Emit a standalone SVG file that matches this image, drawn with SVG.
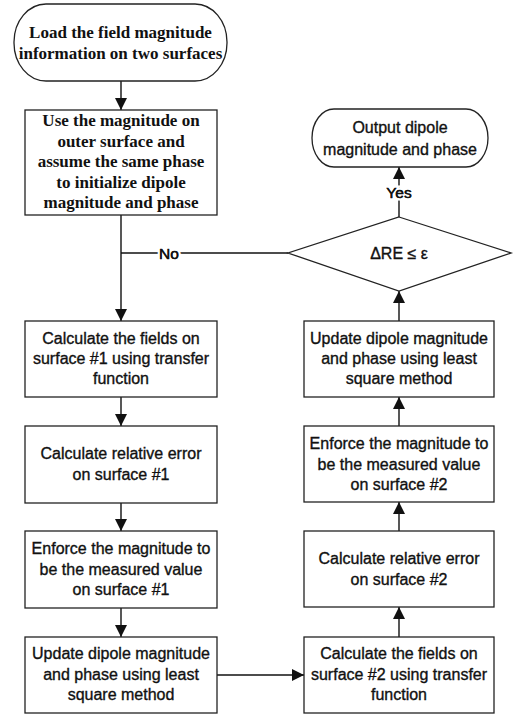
<svg xmlns="http://www.w3.org/2000/svg" width="515" height="715" viewBox="0 0 515 715">
<style>
.shape{fill:#fff;stroke:#222;stroke-width:1.3}
.conn{fill:none;stroke:#111;stroke-width:1.4}
.ser{font-family:"Liberation Serif",serif;font-weight:bold;font-size:17px;fill:#111;text-anchor:middle}
.san{font-family:"Liberation Sans",Arial,sans-serif;font-size:16px;fill:#111;stroke:#111;stroke-width:0.35px;text-anchor:middle}
.lbl{font-family:"Liberation Sans",Arial,sans-serif;font-size:15.5px;fill:#111;text-anchor:middle;paint-order:stroke;stroke:#fff;stroke-width:5px}
.lbl2{font-family:"Liberation Sans",Arial,sans-serif;font-size:15.5px;fill:#111;stroke:#111;stroke-width:0.35px;text-anchor:middle}
</style>
<defs>
<marker id="arr" markerUnits="userSpaceOnUse" markerWidth="12" markerHeight="12" viewBox="0 0 12 12" refX="12" refY="6" orient="auto">
<path d="M0,0 L12,6 L0,12 Z" fill="#111"/>
</marker>
</defs>
<rect width="515" height="715" fill="#fff"/>
<g id="connectors">
<line class="conn" x1="121" y1="81" x2="121" y2="110" marker-end="url(#arr)"/>
<line class="conn" x1="121" y1="215" x2="121" y2="321" marker-end="url(#arr)"/>
<line class="conn" x1="288" y1="253" x2="121" y2="253"/>
<line class="conn" x1="121" y1="397" x2="121" y2="426" marker-end="url(#arr)"/>
<line class="conn" x1="121" y1="503" x2="121" y2="531" marker-end="url(#arr)"/>
<line class="conn" x1="121" y1="608" x2="121" y2="637" marker-end="url(#arr)"/>
<line class="conn" x1="217" y1="675" x2="304" y2="675" marker-end="url(#arr)"/>
<line class="conn" x1="399" y1="637" x2="399" y2="607" marker-end="url(#arr)"/>
<line class="conn" x1="399" y1="531" x2="399" y2="502" marker-end="url(#arr)"/>
<line class="conn" x1="399" y1="426" x2="399" y2="397" marker-end="url(#arr)"/>
<line class="conn" x1="399" y1="321" x2="399" y2="291" marker-end="url(#arr)"/>
<line class="conn" x1="399" y1="217" x2="399" y2="167" marker-end="url(#arr)"/>
<text class="lbl" x="169" y="258.5">No</text>
<text class="lbl2" x="169" y="258.5">No</text>
<text class="lbl" x="399" y="197.5">Yes</text>
<text class="lbl2" x="399" y="197.5">Yes</text>
</g>
<g id="start">
<rect class="shape" x="14" y="4" width="213" height="77" rx="32" ry="38"/>
<text class="ser" x="120.5" y="38">Load the field magnitude</text>
<text class="ser" x="120.5" y="58.5">information on two surfaces</text>
</g>
<g id="init">
<rect class="shape" x="25" y="110" width="192" height="105"/>
<text class="ser" x="121" y="126">Use the magnitude on</text>
<text class="ser" x="121" y="146.5">outer surface and</text>
<text class="ser" x="121" y="167">assume the same phase</text>
<text class="ser" x="121" y="187.5">to initialize dipole</text>
<text class="ser" x="121" y="208">magnitude and phase</text>
</g>
<g id="calc1">
<rect class="shape" x="25" y="321" width="192" height="76"/>
<text class="san" x="121" y="343.5">Calculate the fields on</text>
<text class="san" x="121" y="364">surface #1 using transfer</text>
<text class="san" x="121" y="384">function</text>
</g>
<g id="err1">
<rect class="shape" x="25" y="426" width="192" height="77"/>
<text class="san" x="121" y="459">Calculate relative error</text>
<text class="san" x="121" y="480">on surface #1</text>
</g>
<g id="enforce1">
<rect class="shape" x="25" y="531" width="192" height="77"/>
<text class="san" x="121" y="554">Enforce the magnitude to</text>
<text class="san" x="121" y="575">be the measured value</text>
<text class="san" x="121" y="595">on surface #1</text>
</g>
<g id="update1">
<rect class="shape" x="25" y="637" width="192" height="76"/>
<text class="san" x="121" y="659">Update dipole magnitude</text>
<text class="san" x="121" y="680">and phase using least</text>
<text class="san" x="121" y="700">square method</text>
</g>
<g id="calc2">
<rect class="shape" x="304" y="637" width="190" height="76"/>
<text class="san" x="399" y="659">Calculate the fields on</text>
<text class="san" x="399" y="680">surface #2 using transfer</text>
<text class="san" x="399" y="700">function</text>
</g>
<g id="err2">
<rect class="shape" x="304" y="531" width="190" height="76"/>
<text class="san" x="399" y="564">Calculate relative error</text>
<text class="san" x="399" y="585">on surface #2</text>
</g>
<g id="enforce2">
<rect class="shape" x="304" y="426" width="190" height="76"/>
<text class="san" x="399" y="449">Enforce the magnitude to</text>
<text class="san" x="399" y="470">be the measured value</text>
<text class="san" x="399" y="490">on surface #2</text>
</g>
<g id="update2">
<rect class="shape" x="304" y="321" width="190" height="76"/>
<text class="san" x="399" y="344">Update dipole magnitude</text>
<text class="san" x="399" y="364">and phase using least</text>
<text class="san" x="399" y="384">square method</text>
</g>
<g id="decision">
<polygon class="shape" points="399,217 511,253 399,291 288,253"/>
<text class="san" x="399" y="259">ΔRE ≤ ε</text>
</g>
<g id="output">
<rect class="shape" x="312" y="109" width="176" height="58" rx="22" ry="29"/>
<text class="san" x="400" y="133">Output dipole</text>
<text class="san" x="400" y="155">magnitude and phase</text>
</g>
</svg>
